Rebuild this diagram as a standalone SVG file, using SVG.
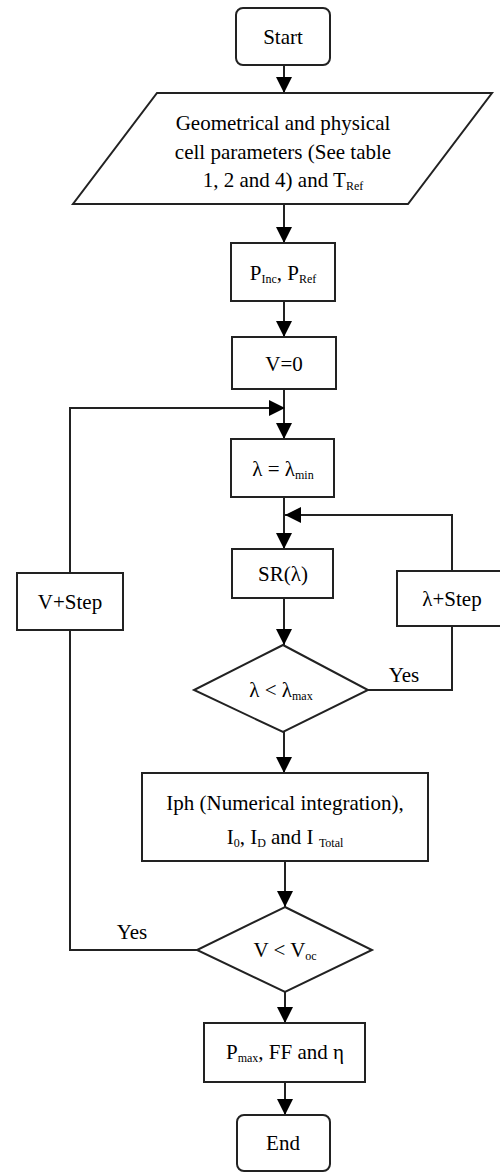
<svg xmlns="http://www.w3.org/2000/svg" width="500" height="1173" viewBox="0 0 500 1173">
<style>
.s{fill:#fff;stroke:#222;stroke-width:2}
.c{fill:none;stroke:#222;stroke-width:2}
text{font-family:'Liberation Serif','Times New Roman','DejaVu Serif',serif;font-size:21px;fill:#000;text-anchor:middle}
.sub{font-size:12px}
</style>
<defs>
<marker id="a" markerUnits="userSpaceOnUse" markerWidth="16" markerHeight="16" refX="16" refY="8" orient="auto">
<path d="M0,0 L16,8 L0,16 z" fill="#000"/>
</marker>
</defs>
<g id="connectors">
<path class="c" d="M284,65 V93" marker-end="url(#a)"/>
<path class="c" d="M284,204 V243" marker-end="url(#a)"/>
<path class="c" d="M284,301 V337" marker-end="url(#a)"/>
<path class="c" d="M284,389 V439" marker-end="url(#a)"/>
<path class="c" d="M284,497 V549" marker-end="url(#a)"/>
<path class="c" d="M284,598 V645" marker-end="url(#a)"/>
<path class="c" d="M284,732 V773" marker-end="url(#a)"/>
<path class="c" d="M285,861 V907" marker-end="url(#a)"/>
<path class="c" d="M285,992 V1023" marker-end="url(#a)"/>
<path class="c" d="M285,1082 V1115" marker-end="url(#a)"/>
<path class="c" d="M368,690 H452 V626"/>
<path class="c" d="M452,571 V515 H285" marker-end="url(#a)"/>
<path class="c" d="M197,950 H70 V630"/>
<path class="c" d="M70,573 V408 H285" marker-end="url(#a)"/>
<text x="404" y="682">Yes</text>
<text x="132" y="939">Yes</text>
</g>
<g id="start">
<rect class="s" x="236" y="8" width="94" height="57" rx="7"/>
<text x="283" y="44">Start</text>
</g>
<g id="params">
<polygon class="s" points="157,93 492,93 408,204 73,204"/>
<text x="283" y="130">Geometrical and physical</text>
<text x="283" y="159">cell parameters (See table</text>
<text x="283" y="187">1, 2 and 4) and T<tspan class="sub" dy="3">Ref</tspan></text>
</g>
<g id="pinc">
<rect class="s" x="231" y="243" width="104" height="58"/>
<text x="283" y="280">P<tspan class="sub" dy="3">Inc</tspan><tspan dy="-3">, P</tspan><tspan class="sub" dy="3">Ref</tspan></text>
</g>
<g id="v0">
<rect class="s" x="232" y="337" width="104" height="52"/>
<text x="284" y="371">V=0</text>
</g>
<g id="lmin">
<rect class="s" x="231" y="439" width="103" height="58"/>
<text x="283" y="476">λ = λ<tspan class="sub" dy="3">min</tspan></text>
</g>
<g id="sr">
<rect class="s" x="232" y="549" width="101" height="49"/>
<text x="283" y="581">SR(λ)</text>
</g>
<g id="lstep">
<rect class="s" x="397" y="571" width="110" height="55"/>
<text x="452" y="606">λ+Step</text>
</g>
<g id="vstep">
<rect class="s" x="17" y="573" width="106" height="57"/>
<text x="70" y="609">V+Step</text>
</g>
<g id="d1">
<polygon class="s" points="283,645 368,690 283,732 194,690"/>
<text x="281" y="697">λ &lt; λ<tspan class="sub" dy="3">max</tspan></text>
</g>
<g id="iph">
<rect class="s" x="142" y="773" width="286" height="88"/>
<text x="285" y="810">Iph (Numerical integration),</text>
<text x="285" y="844">I<tspan class="sub" dy="3">0</tspan><tspan dy="-3">, I</tspan><tspan class="sub" dy="3">D</tspan><tspan dy="-3"> and I </tspan><tspan class="sub" dy="3">Total</tspan></text>
</g>
<g id="d2">
<polygon class="s" points="285,907 372,950 285,992 197,950"/>
<text x="285" y="957">V &lt; V<tspan class="sub" dy="3">oc</tspan></text>
</g>
<g id="pmax">
<rect class="s" x="204" y="1023" width="161" height="59"/>
<text x="285" y="1059">P<tspan class="sub" dy="3">max</tspan><tspan dy="-3">, FF and η</tspan></text>
</g>
<g id="end">
<rect class="s" x="237" y="1115" width="93" height="56" rx="7"/>
<text x="283" y="1150">End</text>
</g>
</svg>
